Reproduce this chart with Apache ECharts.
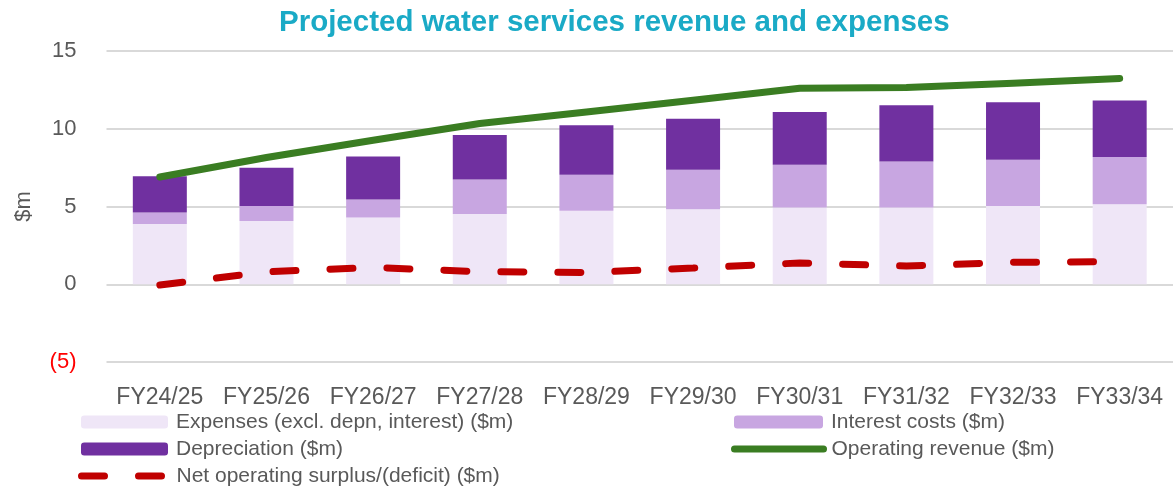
<!DOCTYPE html>
<html>
<head>
<meta charset="utf-8">
<script src="https://cdn.jsdelivr.net/npm/echarts@6/dist/echarts.min.js"></script>
<style>
  html, body { margin: 0; padding: 0; background: #fff; }
  #chart { width: 1173px; height: 490px; }
</style>
</head>
<body>
<div id="chart"></div>
<script>
// data ($m)
const years = ['FY24/25', 'FY25/26', 'FY26/27', 'FY27/28', 'FY28/29', 'FY29/30', 'FY30/31', 'FY31/32', 'FY32/33', 'FY33/34'];
const expenses = [3.88, 4.07, 4.29, 4.52, 4.72, 4.82, 4.93, 4.93, 5.04, 5.14];
const interest = [0.73, 0.97, 1.16, 2.21, 2.32, 2.54, 2.76, 2.97, 2.97, 3.04];
const depreciation = [2.34, 2.45, 2.77, 2.87, 3.18, 3.29, 3.39, 3.61, 3.70, 3.63];
const revenue = [6.90, 8.15, 9.26, 10.34, 11.08, 11.83, 12.60, 12.65, 12.93, 13.23];
const netSurplus = [-0.05, 0.80, 1.08, 0.81, 0.76, 1.04, 1.37, 1.17, 1.41, 1.45];

const names = [
  'Expenses (excl. depn, interest) ($m)',
  'Interest costs ($m)',
  'Depreciation ($m)',
  'Operating revenue ($m)',
  'Net operating surplus/(deficit) ($m)'
];

const grey = '#595959';
const font = 'Liberation Sans, Arial, sans-serif';

let chart = echarts.init(document.getElementById('chart'), null, { renderer: 'canvas' });

// one legend per entry so each sits where Excel put it
function legendAt(name, left, top, w, line) {
  let lg = {
    data: [name],
    left: left,
    top: top,
    padding: 0,
    itemWidth: w,
    itemHeight: 13,
    itemGap: 0,
    selectedMode: false,
    textStyle: { color: grey, fontSize: 21, fontFamily: font, lineHeight: 22, padding: [0, 0, 0, 3] }
  };
  if (line) {
    // plain line icon, no marker dot
    lg.itemStyle = { opacity: 0 };
    lg.lineStyle = line;
  }
  return lg;
}

let option = {
  animation: false,
  title: {
    text: 'Projected water services revenue and expenses',
    left: 274,
    top: 3,
    textStyle: { color: '#1aaac6', fontSize: 29.5, fontWeight: 'bold', fontFamily: font }
  },
  legend: [
    legendAt(names[0], 81, 411, 87),
    legendAt(names[2], 81, 438, 87),
    legendAt(names[4], 78, 465, 87, { width: 7, cap: 'round', type: [23, 34] }),
    legendAt(names[1], 734, 411, 89),
    legendAt(names[3], 731, 438, 89, { width: 7, cap: 'round' })
  ],
  grid: { left: 106.5, right: -6.5, top: 51, bottom: 128 },
  xAxis: {
    type: 'category',
    data: years,
    axisLine: { show: false, onZero: false },
    axisTick: { show: false },
    axisLabel: { color: grey, fontSize: 23, fontFamily: font, margin: 24, interval: 0 }
  },
  yAxis: {
    type: 'value',
    min: -5,
    max: 15,
    interval: 5,
    name: '$m',
    nameLocation: 'middle',
    nameRotate: 90,
    nameGap: 72,
    nameTextStyle: { color: grey, fontSize: 22, fontFamily: font },
    axisLine: { show: false },
    axisTick: { show: false },
    splitLine: { lineStyle: { color: '#d9d9d9', width: 2 } },
    axisLabel: {
      fontSize: 22,
      fontFamily: font,
      margin: 30,
      color: function (v) { return v < 0 ? '#ff0000' : grey; },
      formatter: function (v) { return v < 0 ? '(' + (-v) + ')' : String(v); }
    }
  },
  series: [
    {
      name: names[0], type: 'bar', stack: 'cost', barWidth: 54,
      itemStyle: { color: '#efe6f7' }, data: expenses
    },
    {
      name: names[1], type: 'bar', stack: 'cost', barWidth: 54,
      itemStyle: { color: '#c8a6e1' }, data: interest
    },
    {
      name: names[2], type: 'bar', stack: 'cost', barWidth: 54,
      itemStyle: { color: '#7030a0' }, data: depreciation
    },
    {
      name: names[3], type: 'line', symbol: 'none', z: 5,
      lineStyle: { color: '#3a7d22', width: 7, cap: 'round', join: 'round' },
      itemStyle: { color: '#3a7d22' },
      data: revenue
    },
    {
      name: names[4], type: 'line', symbol: 'none', z: 6,
      lineStyle: { color: '#c00000', width: 7, type: [23, 34], cap: 'round' },
      itemStyle: { color: '#c00000' },
      data: netSurplus
    }
  ]
};

chart.setOption(option);
</script>
</body>
</html>
